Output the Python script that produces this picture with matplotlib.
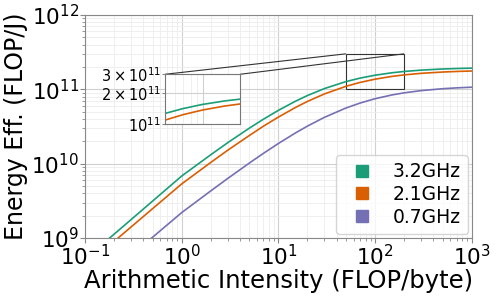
import numpy as np
import matplotlib
matplotlib.use('Agg')
from matplotlib import pyplot as plt
from matplotlib.lines import Line2D
from mpl_toolkits.axes_grid1.inset_locator import mark_inset

# Intensidade aritmética (FLOP/byte)
intensidade = [0.1, 1, 2, 3, 5, 7, 10, 15, 20, 30, 50, 70, 100, 150, 200, 300, 500, 700, 1000]

# Eficiência energética (FLOP/J)
ef_3_2ghz = [5.2e8, 6.83e9, 1.32e10, 1.92e10, 3.0e10, 3.96e10, 5.21e10, 6.91e10, 8.25e10, 1.024e11,
             1.269e11, 1.414e11, 1.547e11, 1.669e11, 1.737e11, 1.811e11, 1.875e11, 1.904e11, 1.926e11]
ef_2_1ghz = [4.2e8, 5.35e9, 1.04e10, 1.52e10, 2.39e10, 3.19e10, 4.23e10, 5.69e10, 6.87e10, 8.67e10,
             1.096e11, 1.237e11, 1.368e11, 1.492e11, 1.562e11, 1.64e11, 1.707e11, 1.738e11, 1.762e11]
ef_0_7ghz = [1.75e8, 2.2e9, 4.31e9, 6.34e9, 1.018e10, 1.375e10, 1.867e10, 2.585e10, 3.2e10, 4.2e10,
             5.6e10, 6.53e10, 7.47e10, 8.4e10, 8.96e10, 9.6e10, 1.018e11, 1.045e11, 1.067e11]

series = [('3.2GHz', ef_3_2ghz, '#1b9e77'),
          ('2.1GHz', ef_2_1ghz, '#d95f02'),
          ('0.7GHz', ef_0_7ghz, '#7570b3')]

fig, ax = plt.subplots(figsize=(4.98, 2.99), dpi=100)
fig.subplots_adjust(left=0.171, right=0.947, top=0.95, bottom=0.204)

for nome, valores, cor in series:
    ax.plot(intensidade, valores, color=cor, linewidth=1.2)

ax.set_xscale('log')
ax.set_yscale('log')
ax.set_xlim(1e-1, 1e3)
ax.set_ylim(1e9, 1e12)
ax.grid(which='major', color='#d0d0d0', linewidth=0.8)
ax.grid(which='minor', color='#ededed', linewidth=0.6)
ax.set_axisbelow(True)
for s in ax.spines.values():
    s.set_color('#888888')
ax.tick_params(which='both', colors='#888888', labelcolor='black', labelsize=15.5)
ax.tick_params(axis='x', pad=1)
ax.tick_params(axis='y', pad=1)
ax.set_xlabel('Arithmetic Intensity (FLOP/byte)', fontsize=17.5, labelpad=0)
ax.set_ylabel('Energy Eff. (FLOP/J)', fontsize=17, labelpad=2)

# Legenda com marcadores quadrados
handles = [Line2D([], [], marker='s', linestyle='none', color=cor, markersize=8)
           for _, _, cor in series]
ax.legend(handles, [n for n, _, _ in series], loc='lower right', fontsize=13.5,
          handletextpad=0.6, borderaxespad=0.2, labelspacing=0.2)

# Zoom na região de saturação
axins = ax.inset_axes([0.207, 0.51, 0.194, 0.224])
for nome, valores, cor in series:
    axins.plot(intensidade, valores, color=cor, linewidth=1.2)
axins.set_xscale('log')
axins.set_yscale('log')
axins.set_xlim(50, 200)
axins.set_ylim(1e11, 3e11)
axins.set_yticks([1e11, 2e11, 3e11])
axins.set_yticklabels([r'$10^{11}$', r'$2\times10^{11}$', r'$3\times10^{11}$'])
axins.set_yticks([], minor=True)
axins.tick_params(axis='x', which='both', labelbottom=False, length=0)
axins.tick_params(axis='y', labelsize=10.5, length=2, pad=1, colors='#888888', labelcolor='black')
axins.grid(which='major', color='#d0d0d0', linewidth=0.8)
axins.grid(which='minor', color='#ededed', linewidth=0.6)
for s in axins.spines.values():
    s.set_color('#777777')
mark_inset(ax, axins, loc1=2, loc2=1, fc='none', ec='#333333', lw=0.8)

plt.savefig('out.png', dpi=100)
